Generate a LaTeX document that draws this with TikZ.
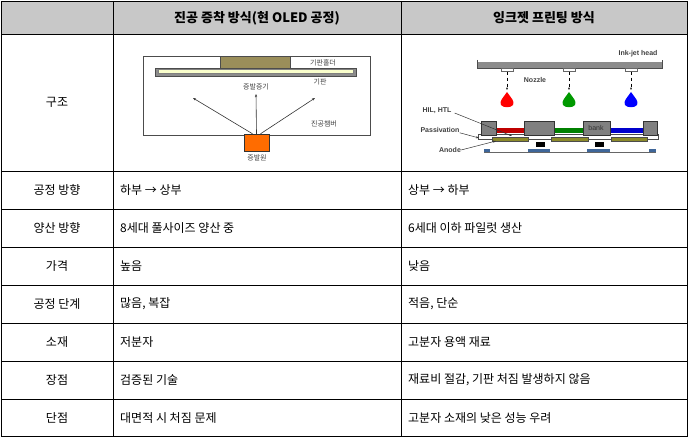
\documentclass[tikz,border=0pt]{standalone}
\usepackage{fontspec}
\setmainfont{Noto Sans CJK KR}
\newfontfamily\lat{Liberation Sans}
\usetikzlibrary{arrows.meta}
\definecolor{hdr}{HTML}{C8C8C8}
\definecolor{olive}{HTML}{9A8E5A}
\definecolor{olv2}{HTML}{8C8A2A}
\begin{document}
\begin{tikzpicture}[x=1pt,y=-1pt,
  cell/.style={font=\fontsize{12}{14}\selectfont, inner sep=0pt},
  hcell/.style={font=\fontsize{13}{15}\selectfont\bfseries, inner sep=0pt},
  lbl/.style={font=\fontsize{7}{8}\selectfont, inner sep=0pt, text=black!75},
  elbl/.style={font=\lat\fontsize{7}{8}\selectfont\bfseries, inner sep=0pt, text=black!75},
  grid/.style={line width=0.9pt},
  arr/.style={-{Stealth[length=3pt]}, line width=0.6pt, black!80}]
\useasboundingbox (0,0) rectangle (688,438);
\fill[hdr] (1,1) rectangle (687,34);
\draw[grid] (1,1) rectangle (687,436);
\draw[grid] (113,1) -- (113,436);
\draw[grid] (401,1) -- (401,436);
\foreach \y in {34,171,209,247,285,323,361,399} \draw[grid] (1,\y) -- (687,\y);
% header
\node[hcell] (h1) at (257,18) {진공 증착 방식(현 OLED 공정)};
\node[hcell] (h2) at (544,18) {잉크젯 프린팅 방식};
% rows
\node[cell] (r0) at (57,102) {구조};
\foreach \i/\a/\b/\c in {0/공정 방향/하부 → 상부/상부 → 하부,
 1/양산 방향/8세대 풀사이즈 양산 중/6세대 이하 파일럿 생산,
 2/가격/높음/낮음,
 3/공정 단계/{많음, 복잡}/{적음, 단순},
 4/소재/저분자/고분자 용액 재료,
 5/장점/검증된 기술/{재료비 절감, 기판 처짐 발생하지 않음},
 6/단점/대면적 시 처짐 문제/고분자 소재의 낮은 성능 우려}{
  \pgfmathsetmacro\yy{190+38*\i}
  \node[cell] (a\i) at (57,\yy) {\a};
  \node[cell,anchor=west] (b\i) at (120,\yy) {\b};
  \node[cell,anchor=west] (c\i) at (408,\yy) {\c};
}
% left diagram
\draw[black!70, line width=0.6pt] (143,56) rectangle (370,135);
\node[draw=black!70, fill=olive, minimum width=70pt, minimum height=12pt, inner sep=0pt, anchor=north west] (hold) at (220,56) {};
\draw[black!70, fill=black!45] (155,68) rectangle (356,76);
\node[draw=black!50, fill=green!10!yellow!20, minimum width=195pt, minimum height=4pt, inner sep=0pt] (sub) at (255.5,71.5) {};
\node[draw=black!80, fill=orange!85!red, minimum width=25pt, minimum height=17pt, inner sep=0pt] (src) at (256.5,142.5) {};
\node[lbl] (l1) at (323,63) {기판홀더};
\node[lbl] (l2) at (320,82) {기판};
\node[lbl] (l3) at (256,87) {증발증기};
\node[lbl] (l4) at (324,124) {진공챔버};
\node[lbl] (l5) at (257,158) {증발원};
\coordinate (t1) at (193,98); \coordinate (t2) at (256,94); \coordinate (t3) at (315,98);
\draw[arr] (src.north) ++(-4,0) -- (t1);
\draw[arr] (src.north) -- (t2);
\draw[arr] (src.north) ++(4,0) -- (t3);
% right diagram
\node[elbl] (ih) at (638,54) {Ink-jet head};
\fill[black!45] (477,62) rectangle (662,68);
\draw[black!70, line width=0.8pt] (477,60) -- (477,68) -- (662,68) -- (662,60);
\foreach \x/\c [count=\k] in {507/red, 569/green!60!black, 631/blue}{
  \node[draw=black!60, fill=white, minimum width=12pt, minimum height=3pt, inner sep=0pt] (n\k) at (\x,70) {};
  \coordinate (d\k) at (\x,90);
  \draw[-{Stealth[length=2.5pt]}, dashed, line width=0.5pt] (n\k.south) -- (d\k);
  \fill[\c] (\x,92) .. controls (\x-4,98) and (\x-8,101) .. (\x-6,105) .. controls (\x-4,108) and (\x+4,108) .. (\x+6,105) .. controls (\x+8,101) and (\x+4,98) .. (\x,92);
}
\node[elbl] (nz) at (535,80) {Nozzle};
% substrate stack
\draw[black!70, fill=white] (478,134) rectangle (658,139);
\fill[red!75!black] (496,128) rectangle (524,133);
\fill[green!50!black] (554,128) rectangle (583,133);
\fill[blue!80!black] (610,128) rectangle (643,133);
\foreach \xa/\xb in {481/496, 524/554, 583/610, 643/657}
  \draw[black!80, fill=black!50] (\xa,121) rectangle (\xb,135);
\node[font=\lat\fontsize{7}{8}\selectfont, text=black!80, inner sep=0pt] (bk) at (596,128) {bank};
\foreach \xa/\xb in {492/528, 551/588, 611/647}
  \draw[black!70, fill=olv2] (\xa,137) rectangle (\xb,141);
\fill[black] (536,142) rectangle (545,147);
\fill[black] (595,142) rectangle (604,147);
\draw[black!60] (484,152) -- (656,152);
\foreach \xa/\xb in {484/490, 528/550, 587/610, 649/656}
  \fill[cyan!50!blue!70!black] (\xa,149) rectangle (\xb,152);
\node[elbl] (hil) at (437,111) {HIL, HTL};
\node[elbl] (pas) at (440,130) {Passivation};
\node[elbl] (an) at (450,150) {Anode};
\coordinate (e1) at (512,136); \coordinate (e2) at (479,138); \coordinate (e3) at (496,141);
\draw[arr, line width=0.5pt] (hil.east) ++(3,2) -- (e1);
\draw[arr, line width=0.5pt] (pas.south east) -- (e2);
\draw[arr, line width=0.5pt] (an.east) -- (e3);
\end{tikzpicture}
\end{document}
